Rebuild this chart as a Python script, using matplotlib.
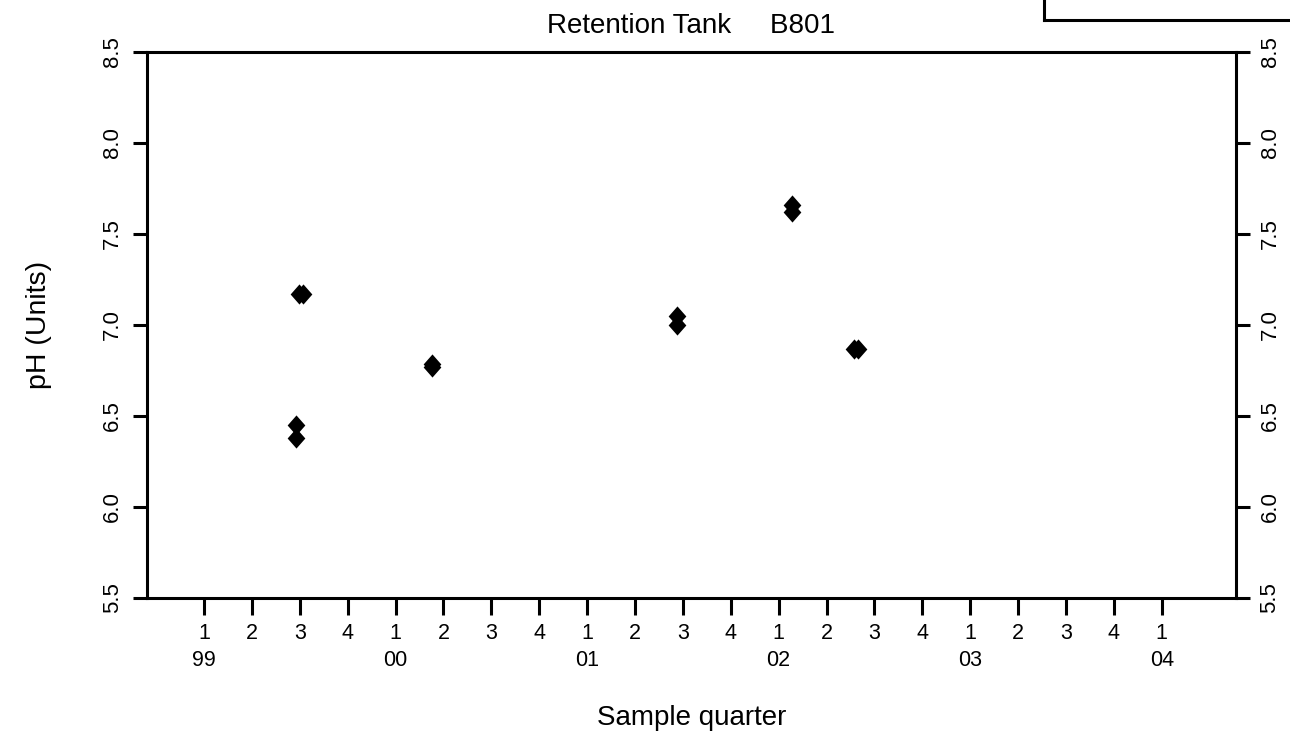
import matplotlib
matplotlib.use("Agg")
import matplotlib.pyplot as plt
from matplotlib.lines import Line2D

plt.rcParams['font.family'] = ['Liberation Sans', 'DejaVu Sans']

# quarter index: 0 = 1999 Q1, 1 = 1999 Q2, ...
quarter_pos = list(range(21))
quarter_labels = ["1", "2", "3", "4"] * 5 + ["1"]
year_labels = ["99", "00", "01", "02", "03", "04"]

# sample points (quarter index, pH)
sample_q = [1.93, 1.93, 1.99, 2.06, 4.76, 4.76, 9.87, 9.87, 12.28, 12.28, 13.57, 13.65]
sample_ph = [6.45, 6.38, 7.17, 7.17, 6.785, 6.77, 7.05, 7.00, 7.66, 7.62, 6.87, 6.87]

fig = plt.figure(figsize=(12.9, 7.4), dpi=100)
ax = fig.add_axes([0.1136, 0.1919, 0.8445, 0.7378])

diamond = [(0, 1), (-0.88, 0), (0, -1), (0.88, 0)]
ax.plot(sample_q, sample_ph, linestyle="none", marker=diamond, ms=14.5,
        color="black", markeredgewidth=0)

ax.set_xlim(-1.2, 21.55)
ax.set_ylim(5.5, 8.5)

# two-line labels: quarter on top, year under each Q1
labels = []
for i, q in zip(quarter_pos, quarter_labels):
    if i % 4 == 0:
        labels.append(q + "\n" + year_labels[i // 4])
    else:
        labels.append(q)
ax.set_xticks(quarter_pos)
ax.set_xticklabels(labels, fontsize=15.5, linespacing=1.4, va="top")

yt = [5.5, 6.0, 6.5, 7.0, 7.5, 8.0, 8.5]
ax.set_yticks(yt)
ax.set_yticklabels([f"{v:.1f}" for v in yt], rotation=90, va="center", fontsize=16)

ax.tick_params(axis="x", direction="out", length=12, width=2.2, pad=6)
ax.tick_params(axis="y", direction="out", length=10, width=2.2, pad=7,
               left=True, right=True, labelleft=True, labelright=True)
for t in ax.yaxis.get_major_ticks():
    t.label2.set_rotation(90)
    t.label2.set_va("center")
    t.label2.set_fontsize(16)

for s in ax.spines.values():
    s.set_linewidth(2.2)

ax.set_title("Retention Tank     B801", fontsize=20, pad=14)
ax.set_xlabel("Sample quarter", fontsize=20, labelpad=24)
ax.set_ylabel("pH (Units)", fontsize=20.5, labelpad=36)

# part of a box cut off at the top right corner
fig.add_artist(Line2D([1044 / 1290, 1044 / 1290], [1.0, 1 - 20 / 740],
                      color="black", lw=2.2, transform=fig.transFigure))
fig.add_artist(Line2D([1044 / 1290, 1.0], [1 - 20 / 740, 1 - 20 / 740],
                      color="black", lw=2.2, transform=fig.transFigure))

fig.savefig("out.png", dpi=100, facecolor="white")
